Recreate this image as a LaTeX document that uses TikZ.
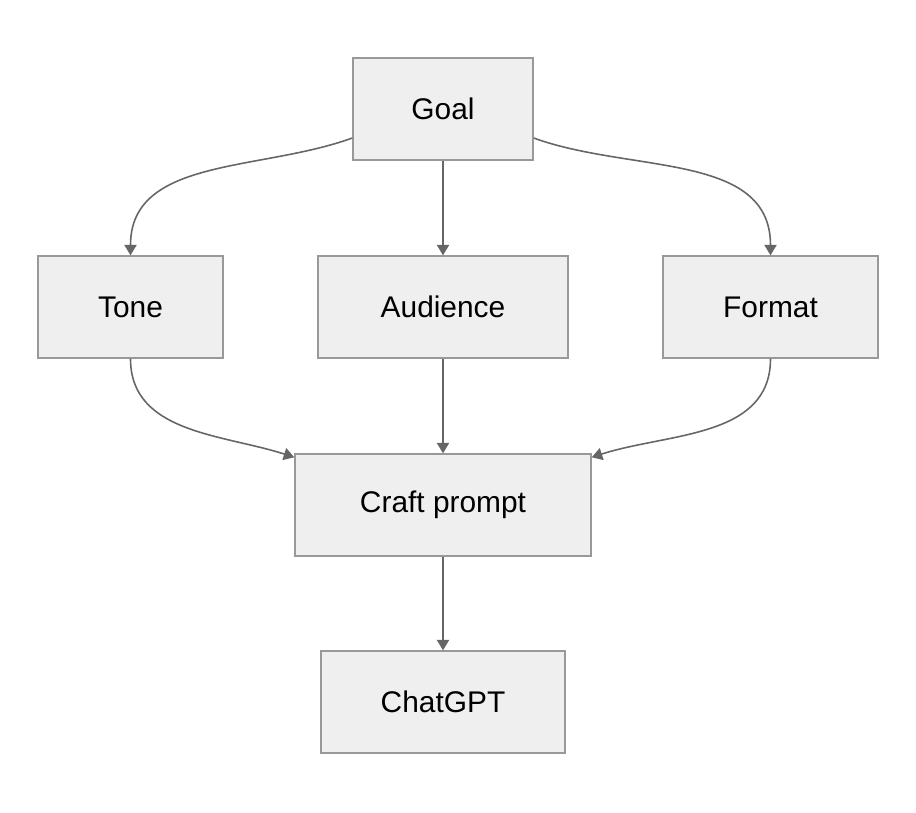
\documentclass[tikz,border=0pt]{standalone}
\usepackage{fontspec}
\setmainfont{Liberation Sans}
\usetikzlibrary{arrows.meta}
\usetikzlibrary{calc}
\definecolor{boxfill}{HTML}{EFEFEF}
\definecolor{boxline}{HTML}{999999}
\definecolor{edgegray}{HTML}{666666}
\tikzset{
  stepbox/.style={rectangle,draw=boxline,fill=boxfill,line width=0.8pt,minimum height=2.04cm,font=\fontsize{17}{20}\selectfont},
  flow/.style={-{Triangle[length=6pt,width=7pt]},edgegray,line width=0.9pt}
}
\begin{document}
\begin{tikzpicture}
  \useasboundingbox (0,0) rectangle (18.32,-16.24);
  \node[stepbox,minimum width=3.6cm] (goal) at (8.86,-2.18) {Goal};
  \node[stepbox,minimum width=3.7cm] (tone) at (2.61,-6.14) {Tone};
  \node[stepbox,minimum width=5.0cm] (audience) at (8.86,-6.14) {Audience};
  \node[stepbox,minimum width=4.3cm] (format) at (15.41,-6.14) {Format};
  \node[stepbox,minimum width=5.92cm] (craft) at (8.86,-10.10) {Craft prompt};
  \node[stepbox,minimum width=4.88cm] (chatgpt) at (8.86,-14.04) {ChatGPT};

  \coordinate (gl) at ($(goal.west)+(0,-0.58)$);
  \coordinate (gr) at ($(goal.east)+(0,-0.58)$);
  \coordinate (cl) at ($(craft.north west)+(0,-0.08)$);
  \coordinate (cr) at ($(craft.north east)+(0,-0.08)$);

  \draw[flow] (gl) to[out=-160,in=90] (tone.north);
  \draw[flow] (goal) -- (audience);
  \draw[flow] (gr) to[out=-20,in=90] (format.north);
  \draw[flow] (tone.south) to[out=-90,in=162] (cl);
  \draw[flow] (audience) -- (craft);
  \draw[flow] (format.south) to[out=-90,in=18] (cr);
  \draw[flow] (craft) -- (chatgpt);
\end{tikzpicture}
\end{document}
